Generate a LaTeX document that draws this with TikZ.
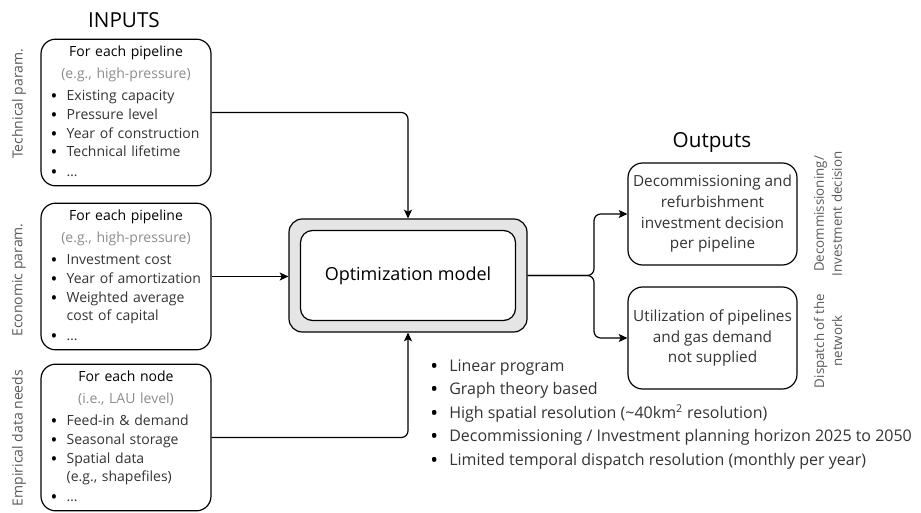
\documentclass[tikz,border=0pt]{standalone}
\usepackage{fontspec}
\setmainfont{Open Sans}
\usepackage{tikz}
\usetikzlibrary{arrows.meta}
\tikzset{
    title/.style={font=\fontsize{15.5}{18}\selectfont, inner sep=0pt},
    inbox/.style={draw, rounded corners=11pt, line width=0.9pt,
        minimum width=127.5pt, minimum height=110pt, inner sep=0pt,
        text width=113pt, align=left, text=black!80,
        font=\fontsize{10.5}{14}\selectfont},
    sidelabel/.style={rotate=90, text=black!65, inner sep=0pt,
        font=\fontsize{10.5}{13.5}\selectfont},
    optframe/.style={draw, rounded corners=10pt, line width=0.9pt, fill=black!10,
        minimum width=178.5pt, minimum height=84.75pt},
    optinner/.style={draw, rounded corners=9pt, line width=0.9pt, fill=white,
        minimum width=161.25pt, minimum height=67.5pt,
        font=\fontsize{13.5}{16}\selectfont},
    outbox/.style={draw, rounded corners=11pt, line width=0.9pt,
        minimum width=126.75pt, minimum height=76.5pt, align=center,
        text=black!80, font=\fontsize{11.5}{15.5}\selectfont},
    notes/.style={align=left, inner sep=0pt, anchor=base west, text=black!80,
        font=\fontsize{12}{17.6}\selectfont},
    conn/.style={line width=0.9pt, rounded corners=5pt,
        -{Stealth[length=6.5pt,width=6pt,inset=1.5pt]}},
}
\newcommand{\dotmark}{\raisebox{-0.25ex}{\textcolor{black}{\scalebox{1.3}{\textbullet}}}}
\newcommand{\itm}{\makebox[12pt][l]{\dotmark}}
\newcommand{\nitm}{\makebox[14.25pt][l]{\dotmark}}
\newcommand{\boxhead}[1]{\makebox[\linewidth]{\color{black}#1}}
\newcommand{\boxsub}[1]{\makebox[\linewidth]{\color{black!45}#1}}

\begin{document}
\begin{tikzpicture}[x=0.75pt,y=-0.75pt]
    \useasboundingbox (0,0) rectangle (921,513);

    \node[title] (intitle) at (124,20) {INPUTS};
    \node[title] (outtitle) at (712,142) {Outputs};

    % inputs
    \node[inbox] (tech) at (126,112.5) {
        \boxhead{For each pipeline}\\[2pt]
        \boxsub{(e.g., high-pressure)}\\[3pt]
        \itm Existing capacity\\
        \itm Pressure level\\
        \itm Year of construction\\
        \itm Technical lifetime\\[1pt]
        \itm \dots};
    \node[inbox] (econ) at (126,276.5) {
        \boxhead{For each pipeline}\\[2pt]
        \boxsub{(e.g., high-pressure)}\\[3pt]
        \itm Investment cost\\
        \itm Year of amortization\\
        \itm Weighted average\\
        \hspace*{12pt}cost of capital\\[1pt]
        \itm \dots};
    \node[inbox] (empir) at (126,437.5) {
        \boxhead{For each node}\\[2pt]
        \boxsub{(i.e., LAU level)}\\[3pt]
        \itm Feed-in \& demand\\
        \itm Seasonal storage\\
        \itm Spatial data\\
        \hspace*{12pt}(e.g., shapefiles)\\[1pt]
        \itm \dots};

    \node[sidelabel] (techlbl) at (19,104) {Technical param.};
    \node[sidelabel] (econlbl) at (19,280) {Economic param.};
    \node[sidelabel] (empirlbl) at (19,438) {Empirical data needs};

    % model
    \node[optframe] (opt) at (408,275.5) {};
    \node[optinner] (optmodel) at (opt.center) {Optimization model};

    % outputs
    \node[outbox] (decom) at (712.5,214) {Decommissioning and\\refurbishment\\investment decision\\per pipeline};
    \node[outbox] (util) at (712.5,338) {Utilization of pipelines\\and gas demand\\not supplied};

    \node[sidelabel, align=center, font=\fontsize{10}{13.5}\selectfont] (decomlbl) at (828,214) {Decommissioning/\\Investment decision};
    \node[sidelabel, align=center, font=\fontsize{10}{13.5}\selectfont] (utillbl) at (828,341) {Dispatch of the\\network};

    \coordinate (split) at (594,275.5);
    \draw[conn] (tech.east) -| (opt.north);
    \draw[conn] (econ.east) -- (econ.east -| opt.west);
    \draw[conn] (empir.east) -| (opt.south);
    \draw[conn] (opt.east) -- (split) |- (decom.west);
    \draw[conn] (opt.east) -- (split) |- (util.west);

    % base is the last line here
    \node[notes] (features) at (430,465) {
        \nitm Linear program\\
        \nitm Graph theory based\\
        \nitm High spatial resolution (\textasciitilde 40km\textsuperscript{2} resolution)\\
        \nitm Decommissioning / Investment planning horizon 2025 to 2050\\
        \nitm Limited temporal dispatch resolution (monthly per year)};
\end{tikzpicture}
\end{document}
